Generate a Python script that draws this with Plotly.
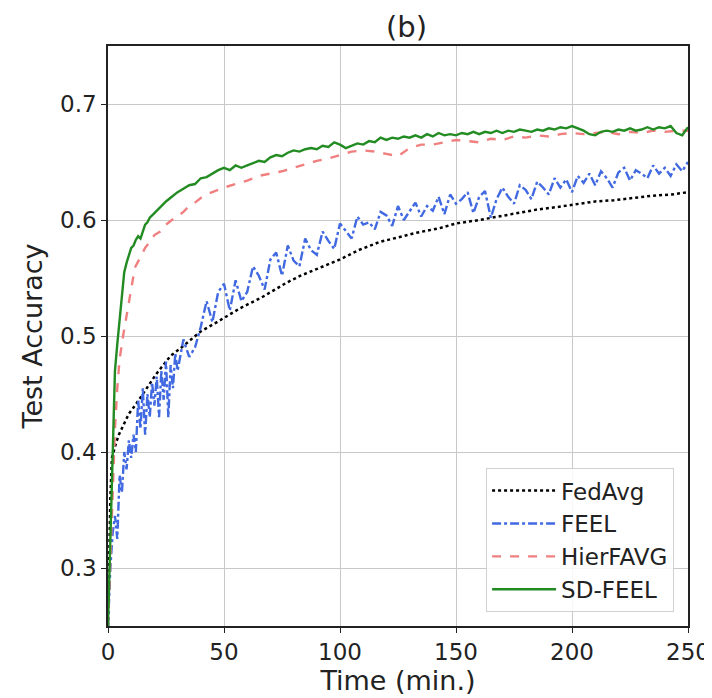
import plotly.graph_objs as go

# --- données (b) ---
t_fedavg = [0, 0.5, 1, 1.7, 2.5, 3.5, 4.7, 7, 9, 12, 14.8, 17.7, 20.7, 24, 27, 31, 35, 40, 47,
            52, 57, 62, 66, 72, 77, 83, 90, 100, 108, 117, 125, 133, 143, 150, 160, 168, 175,
            185, 193, 200, 210, 218, 226, 235, 243, 250]
acc_fedavg = [0.25, 0.32, 0.36, 0.395, 0.402, 0.408, 0.415, 0.424, 0.433, 0.441, 0.449, 0.458,
              0.467, 0.475, 0.483, 0.489, 0.496, 0.504, 0.512, 0.518, 0.524, 0.529, 0.533, 0.540,
              0.546, 0.552, 0.558, 0.566, 0.574, 0.581, 0.585, 0.589, 0.593, 0.597, 0.600, 0.603,
              0.605, 0.609, 0.611, 0.613, 0.616, 0.617, 0.619, 0.621, 0.622, 0.624]

t_feel = [0, 1, 2, 3, 4, 5, 6, 7, 8, 9, 10, 11, 12, 13, 14, 15, 16, 17, 18, 19, 20, 21, 22, 23,
          24, 25, 26, 27, 28, 29, 30,
          32.5, 35, 37.5, 40, 42.5, 45, 47.5, 50, 52.5, 55, 57.5, 60, 62.5, 65, 67.5, 70, 72.5,
          75, 77.5, 80, 82.5, 85, 87.5, 90, 92.5, 95, 97.5, 100, 102.5, 105, 107.5, 110, 112.5,
          115, 117.5, 120, 122.5, 125, 127.5, 130, 132.5, 135, 137.5, 140, 142.5, 145, 147.5,
          150, 152.5, 155, 157.5, 160, 162.5, 165, 167.5, 170, 172.5, 175, 177.5, 180, 182.5,
          185, 187.5, 190, 192.5, 195, 197.5, 200, 202.5, 205, 207.5, 210, 212.5, 215, 217.5,
          220, 222.5, 225, 227.5, 230, 232.5, 235, 237.5, 240, 242.5, 245, 247.5, 250]
acc_feel = [0.25, 0.30, 0.33, 0.345, 0.325, 0.38, 0.365, 0.40, 0.385, 0.41, 0.395, 0.415, 0.40,
            0.445, 0.42, 0.455, 0.415, 0.45, 0.43, 0.46, 0.44, 0.465, 0.43, 0.47, 0.445, 0.478,
            0.43, 0.475, 0.455, 0.485, 0.47,
            0.497, 0.482, 0.49, 0.508, 0.53, 0.512, 0.538, 0.545, 0.522, 0.548, 0.53, 0.538,
            0.56, 0.552, 0.54, 0.566, 0.572, 0.552, 0.578, 0.565, 0.56, 0.584, 0.574, 0.57,
            0.59, 0.582, 0.575, 0.597, 0.59, 0.584, 0.603, 0.596, 0.598, 0.592, 0.607, 0.604,
            0.595, 0.612, 0.6, 0.608, 0.615, 0.603, 0.612, 0.608, 0.62, 0.605, 0.622, 0.614,
            0.618, 0.624, 0.606, 0.62, 0.625, 0.602, 0.618, 0.628, 0.62, 0.614, 0.63, 0.626,
            0.618, 0.633, 0.628, 0.622, 0.636, 0.628, 0.635, 0.624, 0.638, 0.632, 0.64, 0.63,
            0.642, 0.636, 0.628, 0.641, 0.645, 0.634, 0.643, 0.64, 0.636, 0.647, 0.64, 0.645,
            0.638, 0.648, 0.642, 0.65, 0.641, 0.646]

t_hier = [0, 0.5, 1, 1.5, 2, 2.5, 3, 4, 5, 6.5, 7.8, 9, 10, 11.6, 14, 16, 18, 20, 22.5, 25,
          27.5, 30, 32.5, 35, 37.5, 40, 42.5, 45, 47.5, 50, 55, 60, 65, 70, 75, 80, 85, 90, 95,
          100, 105, 110, 115, 120, 125, 130, 135, 140, 145, 150, 155, 160, 165, 170, 175, 180,
          185, 190, 195, 200, 205, 210, 215, 220, 225, 230, 235, 240, 245, 250]
acc_hier = [0.25, 0.28, 0.31, 0.34, 0.37, 0.395, 0.42, 0.455, 0.48, 0.50, 0.515, 0.528, 0.54,
            0.559, 0.568, 0.576, 0.581, 0.587, 0.59, 0.596, 0.60, 0.603, 0.607, 0.612, 0.615,
            0.619, 0.622, 0.624, 0.626, 0.628, 0.631, 0.634, 0.638, 0.64, 0.642, 0.645, 0.648,
            0.651, 0.653, 0.656, 0.659, 0.66, 0.659, 0.657, 0.655, 0.662, 0.665, 0.665, 0.667,
            0.669, 0.668, 0.667, 0.67, 0.669, 0.672, 0.671, 0.673, 0.672, 0.674, 0.675, 0.674,
            0.675, 0.676, 0.674, 0.676, 0.675, 0.677, 0.676, 0.677, 0.677]

t_sdfeel = [0, 0.5, 1, 1.5, 2, 2.5, 3, 4, 5, 6, 7, 8, 9, 10, 11, 12, 13, 14, 15, 16, 17, 18,
            20, 22.5, 25, 27.5, 30, 32.5, 35, 37.5, 40, 42.5, 45, 47.5, 50, 52.5, 55, 57.5, 60,
            62.5, 65, 67.5, 70, 72.5, 75, 77.5, 80, 82.5, 85, 87.5, 90, 92.5, 95, 97.5, 100,
            102.5, 105, 107.5, 110, 112.5, 115, 117.5, 120, 122.5, 125, 127.5, 130, 132.5, 135,
            137.5, 140, 142.5, 145, 147.5, 150, 152.5, 155, 157.5, 160, 162.5, 165, 167.5, 170,
            172.5, 175, 177.5, 180, 182.5, 185, 187.5, 190, 192.5, 195, 197.5, 200, 202.5, 205,
            207.5, 210, 212.5, 215, 217.5, 220, 222.5, 225, 227.5, 230, 232.5, 235, 237.5, 240,
            242.5, 245, 247.5, 250]
acc_sdfeel = [0.25, 0.29, 0.33, 0.37, 0.40, 0.44, 0.47, 0.493, 0.515, 0.54, 0.555, 0.563, 0.57,
              0.576, 0.578, 0.583, 0.586, 0.584, 0.59, 0.596, 0.598, 0.602, 0.606, 0.611, 0.616,
              0.62, 0.624, 0.627, 0.63, 0.631, 0.636, 0.637, 0.64, 0.643, 0.645, 0.643, 0.647,
              0.645, 0.647, 0.649, 0.651, 0.65, 0.654, 0.656, 0.655, 0.658, 0.66, 0.659, 0.661,
              0.662, 0.661, 0.664, 0.663, 0.667, 0.665, 0.662, 0.664, 0.666, 0.665, 0.668, 0.667,
              0.671, 0.669, 0.671, 0.67, 0.672, 0.671, 0.673, 0.671, 0.674, 0.672, 0.675, 0.673,
              0.674, 0.673, 0.675, 0.674, 0.676, 0.674, 0.676, 0.675, 0.677, 0.675, 0.677, 0.676,
              0.678, 0.677, 0.676, 0.678, 0.677, 0.679, 0.678, 0.68, 0.679, 0.681, 0.679, 0.677,
              0.674, 0.673, 0.676, 0.677, 0.676, 0.678, 0.677, 0.679, 0.677, 0.678, 0.68, 0.678,
              0.68, 0.679, 0.681, 0.675, 0.673, 0.68]

x_ticks = [0, 50, 100, 150, 200, 250]
y_ticks = [0.3, 0.4, 0.5, 0.6, 0.7]

police = "DejaVu Sans"
texte = "#222222"

fig = go.Figure()

fig.add_trace(go.Scatter(x=t_fedavg, y=acc_fedavg, mode="lines", name="FedAvg",
                         line=dict(color="black", width=2.5, dash="dot")))
fig.add_trace(go.Scatter(x=t_feel, y=acc_feel, mode="lines", name="FEEL",
                         line=dict(color="royalblue", width=2.4, dash="dashdot")))
fig.add_trace(go.Scatter(x=t_hier, y=acc_hier, mode="lines", name="HierFAVG",
                         line=dict(color="lightcoral", width=2.4, dash="dash")))
fig.add_trace(go.Scatter(x=t_sdfeel, y=acc_sdfeel, mode="lines", name="SD-FEEL",
                         line=dict(color="forestgreen", width=2.4)))

axe = dict(showline=True, linecolor="#222222", linewidth=1.5, mirror=True,
           showgrid=True, gridcolor="#c8c8c8", gridwidth=1,
           ticks="outside", ticklen=5, tickcolor="#222222", zeroline=False,
           automargin=False,
           tickfont=dict(size=23, color=texte, family=police))

# la page ajoute 8 px de marge autour de la figure
fig.update_layout(
    width=704, height=690,
    margin=dict(l=100, r=24, t=38, b=72),
    paper_bgcolor="white", plot_bgcolor="white",
    font=dict(family=police, color=texte),
    title=dict(text="(b)", x=0.566, xanchor="center", y=0.972, yanchor="middle",
               automargin=False,
               font=dict(size=29, color=texte, family=police)),
    xaxis=dict(axe, range=[0, 250], tickvals=x_ticks,
               title=dict(text="Time (min.)", font=dict(size=27), standoff=5)),
    yaxis=dict(axe, range=[0.25, 0.75], tickvals=y_ticks, tickformat=".1f",
               title=dict(text="Test Accuracy", font=dict(size=27), standoff=10)),
    legend=dict(x=0.976, y=0.024, xanchor="right", yanchor="bottom",
                bgcolor="rgba(255,255,255,0.85)", bordercolor="#d0d0d0", borderwidth=1,
                font=dict(size=23, color=texte, family=police), itemwidth=64,
                tracegroupgap=2),
    showlegend=True,
)

fig.write_html("out.html")
